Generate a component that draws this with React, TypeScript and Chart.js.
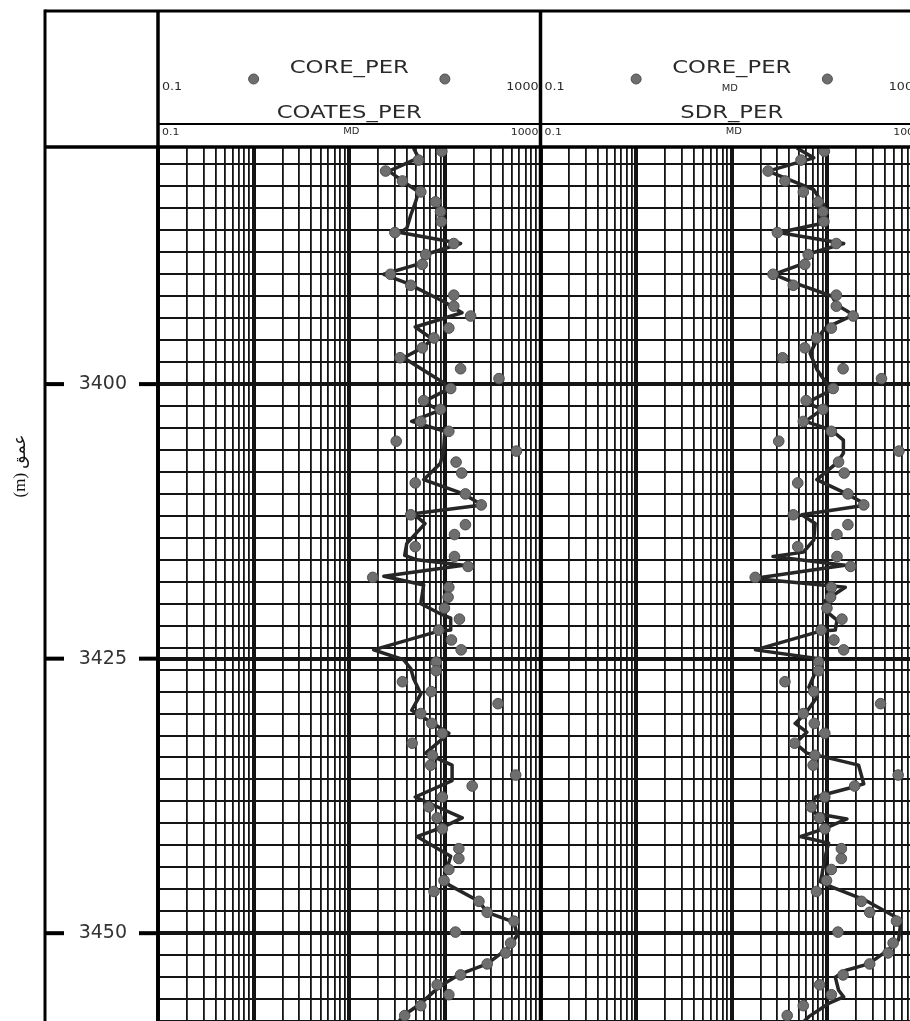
import React, { useEffect, useRef } from "react";
import { Chart, registerables } from "chart.js";

Chart.register(...registerables);

// ---------- data ----------
const CORE_TITLE = "CORE_PER";
const TRACK_TITLES = ["COATES_PER", "SDR_PER"];
const UNIT_LABEL = "MD";
const DEPTH_TITLE = "عمق (m)";

const CORE_DEPTH = [
  3378.8, 3379.6, 3380.6, 3381.5, 3382.5, 3383.4, 3384.3, 3385.2, 3386.2, 3387.2,
  3388.2, 3389.1, 3390.0, 3391.0, 3391.9, 3392.9, 3393.8, 3394.9, 3395.8, 3396.7,
  3397.6, 3398.6, 3399.5, 3400.4, 3401.5, 3402.3, 3403.4, 3404.3, 3405.2, 3406.1,
  3407.1, 3408.1, 3409.0, 3410.0, 3411.0, 3411.9, 3412.8, 3413.7, 3414.8, 3415.7,
  3416.6, 3417.6, 3418.5, 3419.4, 3420.4, 3421.4, 3422.4, 3423.3, 3424.2, 3425.3,
  3426.1, 3427.1, 3428.0, 3429.1, 3430.0, 3430.9, 3431.8, 3432.7, 3433.8, 3434.7,
  3435.6, 3436.6, 3437.6, 3438.5, 3439.5, 3440.5, 3442.3, 3443.2, 3444.2, 3445.2,
  3446.2, 3447.1, 3448.1, 3448.9, 3449.9, 3450.9, 3451.8, 3452.8, 3453.8, 3454.7,
  3455.6, 3456.6, 3457.5,
];
const CORE_PERM = [
  93, 53, 24, 36, 56, 80, 90, 92, 30, 124,
  63, 58, 27, 44, 124, 124, 186, 110, 77, 58,
  34, 146, 368, 115, 60, 90, 56, 110, 31, 560,
  131, 150, 49, 164, 240, 44, 164, 126, 49, 126,
  175, 17.6, 110, 108, 99, 142, 86, 117, 148, 81,
  81, 36, 72, 360, 56, 73, 94, 45.5, 74, 71,
  550, 193, 94, 68, 83, 94, 140, 140, 110, 98,
  77, 227, 277, 528, 129, 487, 431, 277, 146, 83,
  110, 56, 38,
];

const COATES_DEPTH = [
  3378.5, 3379.4, 3380.6, 3381.5, 3382.5, 3383.5, 3384.6, 3385.8, 3386.2, 3387.2,
  3388.2, 3389.0, 3390.0, 3390.8, 3392.5, 3393.5, 3394.8, 3395.9, 3396.7, 3397.6,
  3399.9, 3400.5, 3401.6, 3402.4, 3403.4, 3404.3, 3406.0, 3407.2, 3408.7, 3410.0,
  3411.0, 3411.8, 3412.7, 3414.5, 3415.6, 3416.0, 3416.5, 3417.5, 3418.3, 3420.0,
  3421.0, 3421.3, 3422.4, 3422.5, 3424.2, 3425.1, 3425.9, 3426.8, 3428.2, 3429.7,
  3431.8, 3433.6, 3434.7, 3436.1, 3437.6, 3439.5, 3440.3, 3441.2, 3443.0, 3445.0,
  3445.6, 3447.1, 3448.1, 3449.0, 3450.2, 3451.4, 3452.8, 3453.7, 3454.6, 3455.3,
  3456.4, 3457.5, 3458.5,
];
const COATES_PERM = [
  47, 53, 26, 36, 53, 49, 44, 40, 34, 146,
  63, 56, 23, 40, 98, 151, 49, 74, 58, 37,
  98, 106, 60, 88, 45, 100, 97, 90, 60, 157,
  245, 47, 62, 40, 38, 51, 157, 23, 60, 56,
  94, 115, 115, 86, 18, 37, 44, 47, 56, 45,
  110, 63, 119, 119, 49, 152, 98, 51, 115, 98,
  110, 227, 277, 528, 572, 450, 277, 146, 98, 77,
  56, 37, 30,
];

const SDR_DEPTH = [
  3378.5, 3379.4, 3380.6, 3382.3, 3383.7, 3384.6, 3385.3, 3386.2, 3387.2, 3388.2,
  3389.0, 3390.0, 3390.8, 3392.0, 3392.8, 3393.7, 3394.9, 3395.7, 3397.2, 3398.7,
  3400.2, 3400.5, 3401.7, 3402.3, 3403.4, 3404.2, 3405.1, 3406.3, 3407.2, 3408.7,
  3410.0, 3411.0, 3411.9, 3412.7, 3414.2, 3415.3, 3415.7, 3416.5, 3417.7, 3418.5,
  3419.7, 3420.6, 3421.5, 3422.4, 3422.5, 3424.2, 3425.0, 3425.9, 3427.6, 3428.5,
  3430.0, 3430.9, 3431.7, 3432.7, 3433.6, 3433.9, 3434.7, 3436.4, 3436.8, 3437.6,
  3438.5, 3439.1, 3439.6, 3440.5, 3441.2, 3441.8, 3443.0, 3444.6, 3445.3, 3445.8,
  3447.0, 3448.5, 3449.4, 3450.6, 3451.5, 3452.8, 3453.4, 3454.0, 3455.2, 3455.8,
  3456.4, 3457.6, 3458.5,
];
const SDR_PERM = [
  48, 72, 24, 72, 92, 81, 95, 31, 148, 61,
  57, 27.5, 46, 112, 126, 188, 95, 81, 66, 78,
  103, 112, 61, 88, 59, 111, 147, 147, 125, 77.5,
  160, 258, 54, 74.5, 72, 56, 27, 153, 17, 154,
  95, 95, 126, 121, 84.5, 17.7, 81, 78, 64, 78,
  59, 46, 61, 46, 61, 88, 212, 240, 167, 75,
  69, 75, 160, 92, 52, 103, 95, 88, 84.5, 112,
  249, 513, 578, 556, 437, 270, 154, 121, 131, 148,
  103, 64, 50,
];

// ---------- axis definitions ----------
const DEPTH_MIN = 3378.5;
const DEPTH_MAX = 3460;
const DEPTH_GRID_STEP = 2;
const DEPTH_LABELS = [3400, 3425, 3450];
const PERM_MIN = 0.1;
const PERM_MAX = 1000;
const PERM_DECADES = [0.1, 1, 10, 100];
const PERM_MULTIPLIERS = [1, 2, 3, 4, 5, 6, 7, 8, 9];
const PERM_MIN_LABEL = "0.1";
const PERM_MAX_LABEL = "1000";

const LOG_TICKS: number[] = [];
PERM_DECADES.forEach((d) =>
  PERM_MULTIPLIERS.forEach((k) => LOG_TICKS.push(Number((d * k).toPrecision(6))))
);
LOG_TICKS.push(PERM_MAX);

const DEPTH_TICKS: number[] = [];
for (let d = Math.ceil(DEPTH_MIN / DEPTH_GRID_STEP) * DEPTH_GRID_STEP; d <= DEPTH_MAX; d += DEPTH_GRID_STEP) {
  DEPTH_TICKS.push(d);
}
DEPTH_LABELS.forEach((d) => {
  if (!DEPTH_TICKS.includes(d)) DEPTH_TICKS.push(d);
});
DEPTH_TICKS.sort((a, b) => a - b);

const isDecade = (v: number) => {
  const l = Math.log10(v);
  return Math.abs(l - Math.round(l)) < 1e-6;
};

const toPoints = (vals: number[], depths: number[]) =>
  vals.map((v, i) => ({ x: v, y: depths[i] }));

// ---------- styling ----------
const GRID_COLOR = "#141414";
const POINT_FILL = "#6e6e6e";
const POINT_EDGE = "#505050";
const CURVE_COLOR = "#262626";
const TEXT_COLOR = "#2a2a2a";
const SANS = '"DejaVu Sans", "Liberation Sans", sans-serif';

function stretchedText(
  ctx: CanvasRenderingContext2D,
  text: string,
  x: number,
  y: number,
  size: number,
  align: CanvasTextAlign,
  sx = 1.3
) {
  ctx.save();
  ctx.translate(x, y);
  ctx.scale(sx, 1);
  ctx.font = `${size}px ${SANS}`;
  ctx.textAlign = align;
  ctx.textBaseline = "middle";
  ctx.fillStyle = TEXT_COLOR;
  ctx.fillText(text, 0, 0);
  ctx.restore();
}

function line(ctx: CanvasRenderingContext2D, x0: number, y0: number, x1: number, y1: number, w: number) {
  ctx.beginPath();
  ctx.lineWidth = w;
  ctx.moveTo(x0, y0);
  ctx.lineTo(x1, y1);
  ctx.stroke();
}

const framePlugin = {
  id: "wellLogFrame",
  beforeDraw(chart: any) {
    const { ctx } = chart;
    ctx.save();
    ctx.fillStyle = "#ffffff";
    ctx.fillRect(0, 0, chart.width, chart.height);
    ctx.restore();
  },
  afterDraw(chart: any) {
    const { ctx, chartArea, scales } = chart;
    const W = chart.width;
    const H = chart.height;
    const frameLeft = 45;
    const frameTop = 11;
    const innerLine = 124;
    const x1 = scales.x1;
    const x2 = scales.x2;
    const y = scales.y;

    ctx.save();
    ctx.strokeStyle = "#000";
    ctx.lineCap = "butt";
    line(ctx, frameLeft, frameTop, W, frameTop, 3);
    line(ctx, frameLeft, frameTop - 1.5, frameLeft, H, 3);
    line(ctx, frameLeft, chartArea.top - 1, W, chartArea.top - 1, 3.5);
    [chartArea.left, x1.right, x2.right].forEach((x: number) => line(ctx, x, frameTop, x, H, 3.5));
    line(ctx, chartArea.left, innerLine, W, innerLine, 2);

    // depth marks in the depth column
    DEPTH_LABELS.forEach((d) => {
      const py = y.getPixelForValue(d);
      line(ctx, frameLeft, py, frameLeft + 19, py, 4);
      line(ctx, chartArea.left - 19, py, chartArea.left, py, 4);
    });

    // track headers
    const tracks = [
      { s: x1, title: TRACK_TITLES[0], unitTop: false },
      { s: x2, title: TRACK_TITLES[1], unitTop: true },
    ];
    tracks.forEach(({ s, title, unitTop }) => {
      const cx = (s.left + s.right) / 2;
      stretchedText(ctx, CORE_TITLE, cx, 68, 17.5, "center");
      [1, 100].forEach((v) => {
        ctx.beginPath();
        ctx.fillStyle = POINT_FILL;
        ctx.strokeStyle = POINT_EDGE;
        ctx.lineWidth = 1;
        ctx.arc(s.getPixelForValue(v), 79, 5, 0, Math.PI * 2);
        ctx.fill();
        ctx.stroke();
      });
      stretchedText(ctx, PERM_MIN_LABEL, s.left + 4, 87.5, 11, "left", 1.15);
      stretchedText(ctx, PERM_MAX_LABEL, s.right - 2, 87.5, 11, "right", 1.15);
      if (unitTop) stretchedText(ctx, UNIT_LABEL, cx - 2, 88.5, 9, "center", 1.1);
      stretchedText(ctx, title, cx, 113.5, 17.5, "center");
      stretchedText(ctx, PERM_MIN_LABEL, s.left + 4, 132.5, 9.5, "left", 1.15);
      stretchedText(ctx, UNIT_LABEL, cx + 2, 132, 9, "center", 1.1);
      stretchedText(ctx, PERM_MAX_LABEL, s.right - 2, 132.5, 9.5, "right", 1.15);
    });

    // vertical depth title
    ctx.save();
    ctx.translate(21, 466);
    ctx.rotate(-Math.PI / 2);
    ctx.direction = "rtl";
    ctx.textAlign = "center";
    ctx.textBaseline = "middle";
    ctx.fillStyle = "#111";
    ctx.font = '17px "Liberation Serif", "DejaVu Sans", serif';
    ctx.fillText(DEPTH_TITLE, 0, 0);
    ctx.restore();

    ctx.restore();
  },
};

const logAxis = (weight: number) => ({
  type: "logarithmic" as const,
  position: "top" as const,
  stack: "tracks",
  stackWeight: 1,
  weight,
  min: PERM_MIN,
  max: PERM_MAX,
  afterBuildTicks: (scale: any) => {
    scale.ticks = LOG_TICKS.map((value) => ({ value }));
  },
  ticks: { display: false },
  grid: {
    drawTicks: false,
    color: GRID_COLOR,
    lineWidth: (c: any) => (c.tick && isDecade(c.tick.value) ? 4 : 1.8),
  },
  border: { display: false },
});

export default function App() {
  const canvasRef = useRef<HTMLCanvasElement | null>(null);

  useEffect(() => {
    const canvas = canvasRef.current;
    if (!canvas) return;
    const core = toPoints(CORE_PERM, CORE_DEPTH);
    const chart = new Chart(canvas, {
      type: "scatter",
      data: {
        datasets: [
          {
            label: "CORE_PER (track 1)",
            data: core,
            xAxisID: "x1",
            yAxisID: "y",
            pointRadius: 5.3,
            pointBackgroundColor: POINT_FILL,
            pointBorderColor: POINT_EDGE,
            pointBorderWidth: 1,
            showLine: false,
            order: 0,
          },
          {
            label: TRACK_TITLES[0],
            data: toPoints(COATES_PERM, COATES_DEPTH),
            xAxisID: "x1",
            yAxisID: "y",
            showLine: true,
            borderColor: CURVE_COLOR,
            borderWidth: 3.5,
            borderJoinStyle: "round",
            pointRadius: 0,
            order: 1,
          },
          {
            label: "CORE_PER (track 2)",
            data: core,
            xAxisID: "x2",
            yAxisID: "y",
            pointRadius: 5.3,
            pointBackgroundColor: POINT_FILL,
            pointBorderColor: POINT_EDGE,
            pointBorderWidth: 1,
            showLine: false,
            order: 0,
          },
          {
            label: TRACK_TITLES[1],
            data: toPoints(SDR_PERM, SDR_DEPTH),
            xAxisID: "x2",
            yAxisID: "y",
            showLine: true,
            borderColor: CURVE_COLOR,
            borderWidth: 3.5,
            borderJoinStyle: "round",
            pointRadius: 0,
            order: 1,
          },
        ],
      },
      options: {
        animation: false,
        responsive: false,
        devicePixelRatio: 1,
        layout: { padding: { top: 148, right: 17, bottom: 12, left: 0 } },
        plugins: { legend: { display: false }, tooltip: { enabled: false } },
        scales: {
          x1: logAxis(1),
          x2: logAxis(0),
          y: {
            type: "linear",
            position: "left",
            reverse: true,
            min: DEPTH_MIN,
            max: DEPTH_MAX,
            afterBuildTicks: (scale: any) => {
              scale.ticks = DEPTH_TICKS.map((value) => ({ value }));
            },
            afterFit: (scale: any) => {
              scale.width = 158;
            },
            ticks: {
              autoSkip: false,
              crossAlign: "center",
              padding: 0,
              color: "#333",
              font: { family: "DejaVu Sans", size: 19 },
              callback: (v: any) => (DEPTH_LABELS.includes(Number(v)) ? String(v) : ""),
            },
            grid: {
              drawTicks: true,
              tickLength: 31,
              tickColor: "rgba(0,0,0,0)",
              color: GRID_COLOR,
              lineWidth: (c: any) => (c.tick && DEPTH_LABELS.includes(c.tick.value) ? 4 : 2),
            },
            border: { display: false },
          },
        },
      } as any,
      plugins: [framePlugin],
    });
    return () => chart.destroy();
  }, []);

  return (
    <div
      style={{
        position: "fixed",
        left: 0,
        top: 0,
        width: 910,
        height: 1021,
        overflow: "hidden",
        background: "#fff",
      }}
    >
      <canvas ref={canvasRef} width={940} height={1055} style={{ display: "block", width: 940, height: 1055 }} />
    </div>
  );
}
